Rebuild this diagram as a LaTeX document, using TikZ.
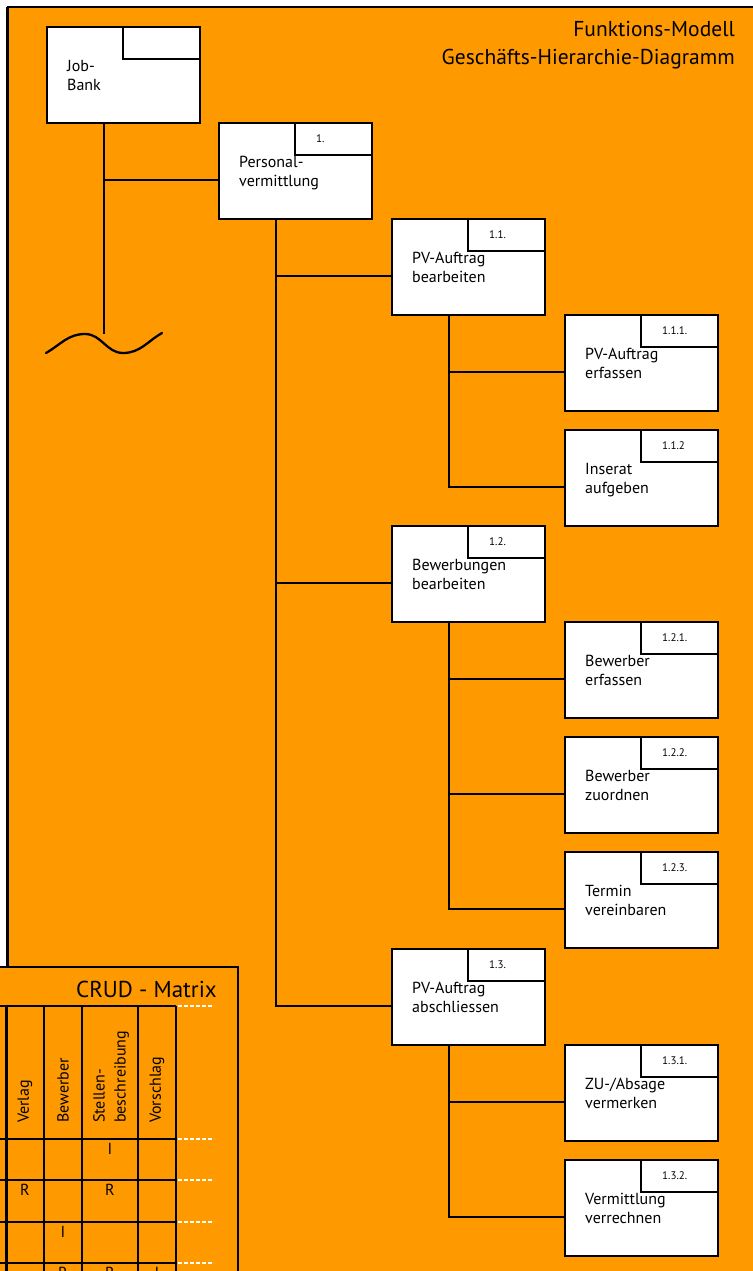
\documentclass[tikz,border=0pt]{standalone}
\usepackage{fontspec}
\setmainfont{PT Sans}
\usetikzlibrary{calc}
\definecolor{bgorange}{RGB}{255,153,0}
\newcommand\fnbox[5]{%
  \node[fnrect] (#1) at (#2,-#3) {};
  \node[tabrect] (#1-t) at (#1.north east) {};
  \node[tabtext] (#1-n) at ([xshift=21pt,yshift=-16pt]#1-t.north west) {#4};
  \node[boxtext] (#1-l) at ([xshift=20pt,yshift=-33pt]#1.north west) {#5};
  \coordinate (#1-out) at ([xshift=57pt]#1.south west);
  \coordinate (#1-in) at ([yshift=-57pt]#1.north west);
}
\begin{document}
\begin{tikzpicture}[x=1pt,y=1pt,
  fnrect/.style={draw=black, fill=white, line width=2.8pt, minimum width=153pt, minimum height=96pt, inner sep=0pt, outer sep=0pt, anchor=north west},
  tabrect/.style={draw=black, fill=white, line width=2.8pt, minimum width=77pt, minimum height=32pt, inner sep=0pt, outer sep=0pt, anchor=north east},
  tabtext/.style={font=\fontsize{11}{12}\selectfont, inner sep=0pt, anchor=west},
  boxtext/.style={font=\fontsize{16}{19}\selectfont, inner sep=0pt, anchor=north west, align=left},
  conn/.style={line width=2.3pt},
  grid/.style={line width=2.8pt},
  hdr/.style={font=\fontsize{16}{21}\selectfont, inner sep=0pt, rotate=90, anchor=west, align=left},
  cell/.style={font=\fontsize{16}{19}\selectfont, inner sep=0pt, anchor=base},
  wdash/.style={white, line width=1.8pt, dash pattern=on 4pt off 2pt},
  title/.style={font=\fontsize{21.5}{28}\selectfont, inner sep=0pt, anchor=base east},
]
\useasboundingbox (0,0) rectangle (752,-1271);
% main frame
\fill[bgorange] (7,-7) rectangle (770,-1290);
\draw[line width=2pt] (7,-7) -- (770,-7);
\draw[line width=2.8pt] (7.5,-7) -- (7.5,-1290);
% titles
\node[title] (t1) at (735,-37) {Funktions-Modell};
\node[title] (t2) at (735,-65) {Geschäfts-Hierarchie-Diagramm};
% boxes
\fnbox{jb}{47}{27}{}{Job-\\Bank}
\fnbox{pv}{219}{123}{1.}{Personal-\\vermittlung}
\fnbox{b11}{392}{219}{1.1.}{PV-Auftrag\\bearbeiten}
\fnbox{b111}{565}{315}{1.1.1.}{PV-Auftrag\\erfassen}
\fnbox{b112}{565}{430}{1.1.2}{Inserat\\aufgeben}
\fnbox{b12}{392}{526}{1.2.}{Bewerbungen\\bearbeiten}
\fnbox{b121}{565}{622}{1.2.1.}{Bewerber\\erfassen}
\fnbox{b122}{565}{737}{1.2.2.}{Bewerber\\zuordnen}
\fnbox{b123}{565}{852}{1.2.3.}{Termin\\vereinbaren}
\fnbox{b13}{392}{949}{1.3.}{PV-Auftrag\\abschliessen}
\fnbox{b131}{565}{1045}{1.3.1.}{ZU-/Absage\\vermerken}
\fnbox{b132}{565}{1160}{1.3.2.}{Vermittlung\\verrechnen}
% connectors
\coordinate (jbend) at (104,-334);
\draw[conn] (jb-out) -- (jbend);
\draw[conn] (jb-out) |- (pv-in);
\draw[conn] (pv-out) |- (b11-in);
\draw[conn] (pv-out) |- (b12-in);
\draw[conn] (pv-out) |- (b13-in);
\draw[conn] (b11-out) |- (b111-in);
\draw[conn] (b11-out) |- (b112-in);
\draw[conn] (b12-out) |- (b121-in);
\draw[conn] (b12-out) |- (b122-in);
\draw[conn] (b12-out) |- (b123-in);
\draw[conn] (b13-out) |- (b131-in);
\draw[conn] (b13-out) |- (b132-in);
% break wave
\draw[conn, line cap=round] (46,-353) to[out=30,in=180] (85,-334) to[out=0,in=180] (123,-353) to[out=0,in=210] (162,-333);
% CRUD matrix frame
\filldraw[fill=bgorange, draw=black, line width=2.8pt] (-20,-967) rectangle (238,-1300);
\node[title, font=\fontsize{23}{26}\selectfont] (ct) at (217,-997) {CRUD - Matrix};
\foreach \yy in {1006,1139,1180,1222,1263} {
  \draw[grid] (-20,-\yy) -- (176,-\yy);
  \draw[wdash] (178,-\yy) -- (214,-\yy);
}
\foreach \xx in {6.5,44,82,138,176} {
  \draw[grid] (\xx,-1006) -- (\xx,-1300);
}
% headers
\node[hdr] (hverlag) at (25,-1123) {Verlag};
\node[hdr] (hbew) at (63,-1123) {Bewerber};
\node[hdr] (hstell) at (111,-1123) {Stellen-\\beschreibung};
\node[hdr] (hvor) at (157,-1123) {Vorschlag};
% cells
\node[cell] (c1s) at (110,-1154) {I};
\node[cell] (c2v) at (25,-1195) {R};
\node[cell] (c2s) at (110,-1195) {R};
\node[cell] (c3b) at (63,-1237) {I};
\node[cell] (c4b) at (63,-1278) {R};
\node[cell] (c4s) at (110,-1278) {R};
\node[cell] (c4v) at (157,-1278) {I};
\end{tikzpicture}
\end{document}
